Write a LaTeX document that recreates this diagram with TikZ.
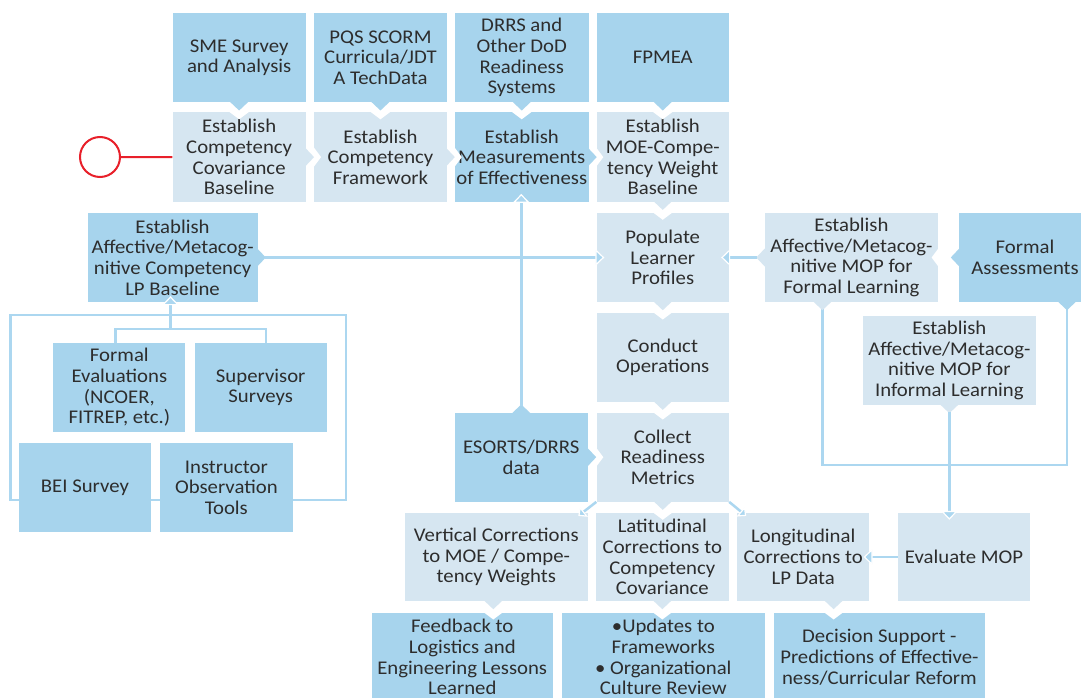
\documentclass[tikz,border=0pt]{standalone}
\usepackage{fontspec}
\setmainfont{Carlito}[FakeStretch=1.07]
\usetikzlibrary{arrows.meta,calc}
\definecolor{dk}{RGB}{167,212,237}
\definecolor{lt}{RGB}{214,230,241}
\definecolor{ln}{RGB}{172,215,240}
\definecolor{tx}{RGB}{45,45,45}
\definecolor{rd}{RGB}{232,32,42}
\tikzset{
 box/.style={rectangle, inner sep=0pt, align=center, text=tx, font=\fontsize{19.4}{20.7}\selectfont},
 dkbox/.style={box, fill=dk},
 ltbox/.style={box, fill=lt},
 conn/.style={draw=ln, line width=2.5pt},
 arr/.style={conn, -{Triangle[width=17pt,length=9pt,color=white,fill=ln,line width'=1.2pt]}},
 sarr/.style={conn, -{Triangle[width=13pt,length=7pt,color=white,fill=ln,line width'=1.2pt]}},
}
\newcommand\bx[7]{\node[#2, minimum width={(#5-#3)*1pt}, minimum height={(#6-#4)*1pt}] (#1) at ({(#3+#5)/2},{(#4+#6)/2}) {#7};}
% downward tab from source #2 into target #3 (notch), colour #4, x shift #1
\newcommand\tabD[4][0]{%
 \fill[white] ($(#2.south |- #3.north)+(#1-10,-0.5)$) -- ($(#2.south |- #3.north)+(#1+10,-0.5)$) -- ($(#2.south |- #3.north)+(#1,7)$) -- cycle;
 \fill[#4] ($(#2.south)+(#1-9,-0.5)$) -- ($(#2.south)+(#1+9,-0.5)$) -- ($(#2.south)+(#1,8)$) -- cycle;}
\newcommand\tabS[3][0]{%
 \fill[#3] ($(#2.south)+(#1-9,-0.5)$) -- ($(#2.south)+(#1+9,-0.5)$) -- ($(#2.south)+(#1,8)$) -- cycle;}
\newcommand\tabU[3][0]{%
 \fill[#3] ($(#2.north)+(#1-9,0.5)$) -- ($(#2.north)+(#1+9,0.5)$) -- ($(#2.north)+(#1,-8)$) -- cycle;}
\newcommand\tabR[4][0]{%
 \fill[white] ($(#2.east -| #3.west)+(-0.5,#1-10)$) -- ($(#2.east -| #3.west)+(-0.5,#1+10)$) -- ($(#2.east -| #3.west)+(7,#1)$) -- cycle;
 \fill[#4] ($(#2.east)+(-0.5,#1-9)$) -- ($(#2.east)+(-0.5,#1+9)$) -- ($(#2.east)+(8,#1)$) -- cycle;}
\newcommand\tabRS[3][0]{%
 \fill[#3] ($(#2.east)+(-0.5,#1-9)$) -- ($(#2.east)+(-0.5,#1+9)$) -- ($(#2.east)+(8,#1)$) -- cycle;}
\newcommand\tabL[4][0]{%
 \fill[white] ($(#2.west -| #3.east)+(0.5,#1-10)$) -- ($(#2.west -| #3.east)+(0.5,#1+10)$) -- ($(#2.west -| #3.east)+(-7,#1)$) -- cycle;
 \fill[#4] ($(#2.west)+(0.5,#1-9)$) -- ($(#2.west)+(0.5,#1+9)$) -- ($(#2.west)+(-8,#1)$) -- cycle;}
\newcommand\tabLS[3][0]{%
 \fill[#3] ($(#2.west)+(0.5,#1-9)$) -- ($(#2.west)+(0.5,#1+9)$) -- ($(#2.west)+(-8,#1)$) -- cycle;}

\begin{document}
\begin{tikzpicture}[x=1pt,y=-1pt]
\clip (0,0) rectangle (1081,698);
\fill[white] (0,0) rectangle (1081,698);

% frame around the lower-left sources (behind boxes)
\draw[conn] (10.3,315) rectangle (346,500);

% row 1
\bx{sme}{dkbox}{172.5}{13}{305.8}{102.3}{SME Survey\\and Analysis}
\bx{pqs}{dkbox}{314.3}{13}{446.6}{102.3}{PQS SCORM\\Curricula/JDT\\A TechData}
\bx{drrs}{dkbox}{455}{13}{588.5}{102.3}{DRRS and\\Other DoD\\Readiness\\Systems}
\bx{fpmea}{dkbox}{596.5}{13}{729}{102.3}{FPMEA}
% row 2
\bx{ecov}{ltbox}{172.5}{112.5}{305.8}{201.7}{Establish\\Competency\\Covariance\\Baseline}
\bx{efw}{ltbox}{314.3}{112.5}{446.6}{201.7}{Establish\\Competency\\Framework}
\bx{emoe}{dkbox}{455}{112.5}{588.5}{201.7}{Establish\\Measurements\\of Effectiveness}
\bx{ewt}{ltbox}{596.5}{112.5}{729}{201.7}{Establish\\MOE-Compe-\\tency Weight\\Baseline}
% row 3
\bx{lpb}{dkbox}{87.5}{213}{257.6}{302}{Establish\\Affective/Metacog-\\nitive Competency\\LP Baseline}
\bx{pop}{ltbox}{596.5}{213}{729}{302}{Populate\\Learner\\Profiles}
\bx{mopf}{ltbox}{764.5}{213}{938.4}{302}{Establish\\Affective/Metacog-\\nitive MOP for\\Formal Learning}
\bx{fa}{dkbox}{959}{213}{1091}{302}{Formal\\Assessments}

% U connector between formal MOP and formal assessments
\draw[conn] ($(mopf.south)+(-29,0)$) -- ++(0,163) -| ($(fa.south)+(42,0)$);

% row 4
\bx{cop}{ltbox}{596.5}{312.7}{729}{401.7}{Conduct\\Operations}
\bx{mopi}{ltbox}{862.7}{316}{1036}{405}{Establish\\Affective/Metacog-\\nitive MOP for\\Informal Learning}
\bx{fev}{dkbox}{53.4}{343}{185.3}{432}{Formal\\Evaluations\\(NCOER,\\FITREP, etc.)}
\bx{sup}{dkbox}{194.6}{343}{326.8}{432}{Supervisor\\Surveys}
\bx{bei}{dkbox}{19}{443.3}{150.8}{532}{BEI Survey}
\bx{ins}{dkbox}{160}{443.3}{292.7}{532}{Instructor\\Observation\\Tools}
\bx{eso}{dkbox}{454.5}{412.7}{588}{501.7}{ESORTS/DRRS\\data}
\bx{crm}{ltbox}{596.5}{412.7}{729}{501.7}{Collect\\Readiness\\Metrics}
% corrections row
\bx{vc}{ltbox}{405}{513}{587.6}{601}{Vertical Corrections\\to MOE / Compe-\\tency Weights}
\bx{lat}{ltbox}{596}{513}{728.7}{601}{Latitudinal\\Corrections to\\Competency\\Covariance}
\bx{lon}{ltbox}{737}{513}{869.4}{601}{Longitudinal\\Corrections to\\LP Data}
\bx{evm}{ltbox}{898}{513}{1030}{601}{Evaluate MOP}
% bottom row
\bx{fb}{dkbox}{371.5}{612.7}{553}{701.7}{Feedback to\\Logistics and\\Engineering Lessons\\Learned}
\bx{upd}{dkbox}{562}{612.7}{764.6}{701.7}{•Updates to\\Frameworks\\• Organizational\\Culture Review}
\bx{ds}{dkbox}{773.8}{612.7}{985}{701.7}{Decision Support -\\Predictions of Effective-\\ness/Curricular Reform}

% bracket from evaluations/surveys to LP baseline
\coordinate (br) at (170.5,329);
\draw[conn] ($(fev.north)+(-3.65,0)$) -- ($(fev.north)+(-3.65,-14)$) -| ($(sup.north)+(5.3,0)$);

% pointer tabs
\tabD{sme}{ecov}{dk}
\tabD{pqs}{efw}{dk}
\tabD{drrs}{emoe}{dk}
\tabD{fpmea}{ewt}{dk}
\tabD{ewt}{pop}{lt}
\tabD{pop}{cop}{lt}
\tabD{cop}{crm}{lt}
\tabD{crm}{lat}{lt}
\tabD[-3]{vc}{fb}{lt}
\tabD{lat}{upd}{lt}
\tabD[30.4]{lon}{ds}{lt}
\tabR{ecov}{efw}{lt}
\tabR{efw}{emoe}{lt}
\tabR{emoe}{ewt}{dk}
\tabR{eso}{crm}{dk}
\tabL{fa}{mopf}{dk}
\tabRS{lpb}{dk}
\tabLS{mopf}{lt}
\tabS[-29]{mopf}{lt}
\tabS[42]{fa}{dk}
\tabS{mopi}{lt}
\tabU{eso}{dk}

% arrows
\draw[arr] ($(lpb.east)+(7,0)$) -- ($(pop.west)+(8,0)$);
\draw[arr] ($(mopf.west)+(-7,0)$) -- ($(pop.east)+(-8,0)$);
\draw[arr] ($(eso.north)+(0,-7)$) -- ($(eso.north |- emoe.south)+(0,-8)$);
\draw[arr] (br) -- ($(br |- lpb.south)+(0,-6)$);
\draw[arr] ($(mopi.south)+(0,7)$) -- ($(mopi.south |- evm.north)+(0,7)$);
\draw[arr] (evm.west) -- ($(lon.east)+(-6,0)$);
\draw[sarr] (crm.south west) -- ++(-18,14);
\draw[sarr] (crm.south east) -- ++(17,14);

% red start marker
\node[circle, draw=rd, line width=2pt, minimum size=40pt, inner sep=0pt] (rc) at (100,157) {};
\draw[rd, line width=2pt] (rc) -- (ecov);
\end{tikzpicture}
\end{document}
